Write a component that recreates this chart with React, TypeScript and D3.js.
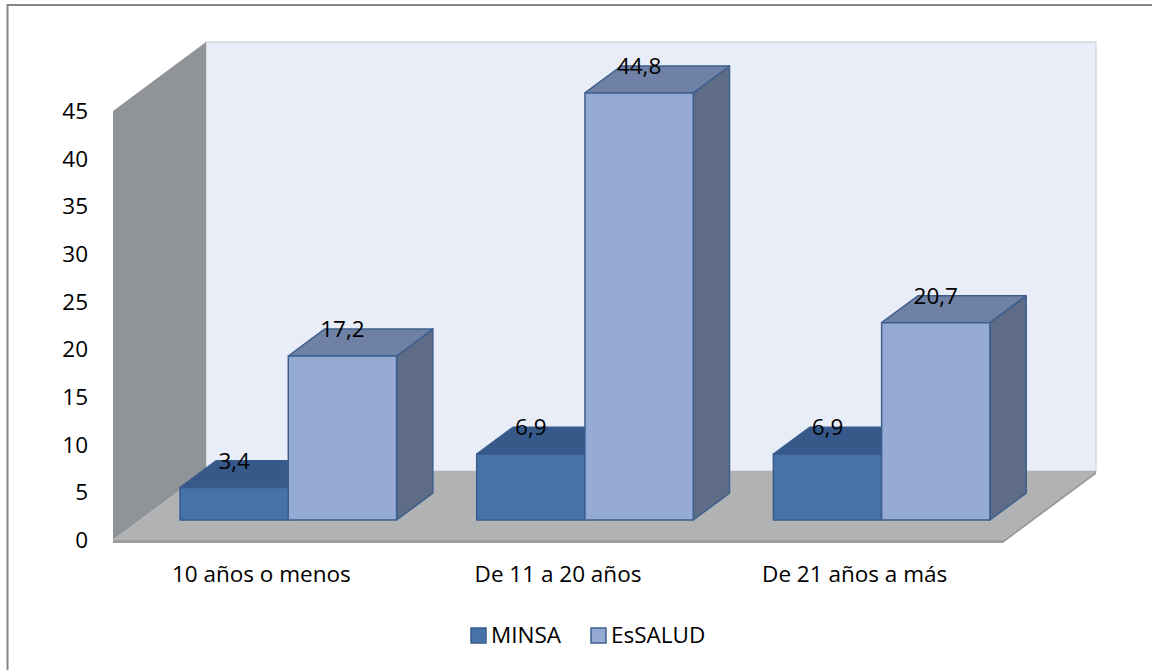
import React from "react";
import * as d3 from "d3";

// Chart data
const categories = ["10 años o menos", "De 11 a 20 años", "De 21 años a más"];
const seriesNames = ["MINSA", "EsSALUD"];
const minsaValues = [3.4, 6.9, 6.9];
const essaludValues = [17.2, 44.8, 20.7];
const yTickValues = [0, 5, 10, 15, 20, 25, 30, 35, 40, 45];

const W = 1152;
const H = 670;
const FONT = "'Open Sans', 'Liberation Sans', sans-serif";

// Oblique 3D frame
const frontLeft = 113;
const frontRight = 1003;
const baseY = 540;
const depthX = 93;
const depthY = -69;
const barDepthStart = 0.29;
const barDepthEnd = 0.68;

const seriesStyle = [
  { front: "#4572A8", top: "#36598A", side: "#2F4F7C", stroke: "#3A5C8C" },
  { front: "#95ABD4", top: "#6F82A6", side: "#5E6C88", stroke: "#3E5F8E" },
];

const pts = (p: [number, number][]) => p.map((q) => q.join(",")).join(" ");

export default function App() {
  const hScale = d3.scaleLinear().domain([0, 45]).range([0, 429]);
  const xCat = d3.scaleBand<string>().domain(categories).range([frontLeft, frontRight]).padding(0);
  const xSeries = d3
    .scaleBand<string>()
    .domain(seriesNames)
    .range([0, xCat.bandwidth()])
    .paddingInner(0)
    .paddingOuter(0.37);

  const ox0 = depthX * barDepthStart;
  const oy0 = depthY * barDepthStart;
  const bx = depthX * (barDepthEnd - barDepthStart);
  const by = depthY * (barDepthEnd - barDepthStart);

  const topY = baseY - hScale(45);
  const values = [minsaValues, essaludValues];

  const bars: React.ReactNode[] = [];
  const labels: React.ReactNode[] = [];
  categories.forEach((cat, ci) => {
    seriesNames.forEach((s, si) => {
      const v = values[si][ci];
      const st = seriesStyle[si];
      const x0 = (xCat(cat) as number) + (xSeries(s) as number) + ox0;
      const x1 = x0 + xSeries.bandwidth();
      const yb = baseY + oy0;
      const yt = yb - hScale(v);
      bars.push(
        <g key={`${ci}-${si}`} stroke={st.stroke} strokeWidth={1.5} strokeLinejoin="round">
          <polygon points={pts([[x1, yt], [x1 + bx, yt + by], [x1 + bx, yb + by], [x1, yb]])} fill={st.side} />
          <polygon points={pts([[x0, yt], [x0 + bx, yt + by], [x1 + bx, yt + by], [x1, yt]])} fill={st.top} />
          <rect x={x0} y={yt} width={x1 - x0} height={yb - yt} fill={st.front} />
        </g>
      );
      labels.push(
        <text
          key={`l-${ci}-${si}`}
          x={(x0 + x1) / 2}
          y={yt + by}
          dy="0.36em"
          textAnchor="middle"
          fontSize={22.5}
          fill="#000"
        >
          {String(v).replace(".", ",")}
        </text>
      );
    });
  });

  return (
    <div style={{ position: "absolute", left: 0, top: 0, width: W, height: H }}>
      <svg width={W} height={H} style={{ display: "block", fontFamily: FONT }}>
        <rect x={0} y={0} width={W} height={H} fill="#fff" />
        {/* outer chart frame */}
        <rect x={7.5} y={5} width={W + 20} height={H + 20} fill="none" stroke="#878787" strokeWidth={2} />

        {/* back wall */}
        <rect
          x={frontLeft + depthX}
          y={topY + depthY}
          width={frontRight - frontLeft}
          height={hScale(45)}
          fill="#E9EDF7"
          stroke="#C9CACD"
          strokeWidth={1}
        />
        {/* side wall */}
        <polygon
          points={pts([
            [frontLeft, topY],
            [frontLeft + depthX, topY + depthY],
            [frontLeft + depthX, baseY + depthY],
            [frontLeft, baseY],
          ])}
          fill="#909397"
        />
        {/* floor */}
        <polygon
          points={pts([
            [frontLeft, baseY],
            [frontLeft + depthX, baseY + depthY],
            [frontRight + depthX, baseY + depthY],
            [frontRight, baseY],
          ])}
          fill="#B1B2B4"
        />
        <polygon
          points={pts([
            [frontLeft, baseY],
            [frontRight, baseY],
            [frontRight + depthX, baseY + depthY],
            [frontRight + depthX, baseY + depthY + 3],
            [frontRight, baseY + 3],
            [frontLeft, baseY + 3],
          ])}
          fill="#9C9C9E"
        />

        {bars}
        {labels}

        {/* value axis */}
        {yTickValues.map((t) => (
          <text key={t} x={88} y={baseY - hScale(t)} dy="0.36em" textAnchor="end" fontSize={22.5} fill="#000">
            {t}
          </text>
        ))}

        {/* category axis */}
        {categories.map((c) => (
          <text
            key={c}
            x={(xCat(c) as number) + xCat.bandwidth() / 2}
            y={582}
            textAnchor="middle"
            fontSize={22.5}
            fill="#000"
          >
            {c}
          </text>
        ))}

        {/* legend */}
        {seriesNames.map((s, i) => {
          const lx = [471, 591][i];
          return (
            <g key={s}>
              <rect x={lx} y={628} width={15} height={15} fill={seriesStyle[i].front} stroke={seriesStyle[i].stroke} strokeWidth={1.5} />
              <text x={lx + 20} y={643} fontSize={22.5} fill="#000">
                {s}
              </text>
            </g>
          );
        })}
      </svg>
    </div>
  );
}
